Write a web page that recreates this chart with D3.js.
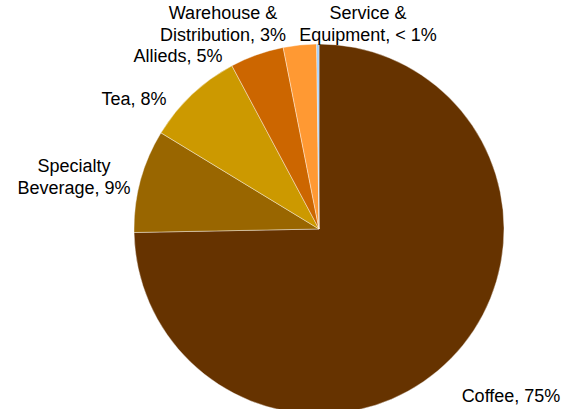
<!DOCTYPE html>
<html>
<head>
<meta charset="utf-8">
<script src="https://cdn.jsdelivr.net/npm/d3@7"></script>
<style>
  body { margin: 0; background: #fff; }
  text { font-family: "Liberation Sans", Arial, sans-serif; font-size: 18px; fill: #000; }
</style>
</head>
<body>
<div id="chart"></div>
<script>
// Segment shares (%)
const categories = ["Coffee", "Specialty Beverage", "Tea", "Allieds", "Warehouse & Distribution", "Service & Equipment"];
const shares = [74.7, 9.0, 8.5, 4.7, 2.9, 0.2];
const labels = [["Coffee, 75%"], ["Specialty", "Beverage, 9%"], ["Tea, 8%"], ["Allieds, 5%"],
                ["Warehouse &", "Distribution, 3%"], ["Service &", "Equipment, < 1%"]];
const colors = ["#663300", "#996600", "#cc9900", "#cc6600", "#ff9933", "#99ccff"];

// label centres (first baseline), placed like the original
const labelPos = [[511, 402], [74, 172], [134, 105], [178, 62], [223, 19], [368, 19]];

const width = 561, height = 409;
const cx = 319, cy = 229, radius = 185;

const svg = d3.select("#chart")
  .append("svg")
  .attr("width", width)
  .attr("height", height);

const pie = d3.pie().sort(null).value(d => d);
const arc = d3.arc().innerRadius(0).outerRadius(radius);

const g = svg.append("g")
  .attr("transform", "translate(" + cx + "," + cy + ")");

g.selectAll("path")
  .data(pie(shares))
  .enter().append("path")
  .attr("d", arc)
  .attr("fill", (d, i) => colors[i])
  .attr("stroke", "#fff")
  .attr("stroke-opacity", 0.5)
  .attr("stroke-width", 0.8);

// labels
const lab = svg.selectAll(".lab")
  .data(labels)
  .enter().append("text")
  .attr("class", "lab")
  .attr("text-anchor", "middle")
  .attr("x", (d, i) => labelPos[i][0])
  .attr("y", (d, i) => labelPos[i][1]);

lab.selectAll("tspan")
  .data((d, i) => d.map(t => ({ t: t, x: labelPos[i][0] })))
  .enter().append("tspan")
  .attr("x", d => d.x)
  .attr("dy", (d, j) => j === 0 ? 0 : 21.5)
  .text(d => d.t);
</script>
</body>
</html>
